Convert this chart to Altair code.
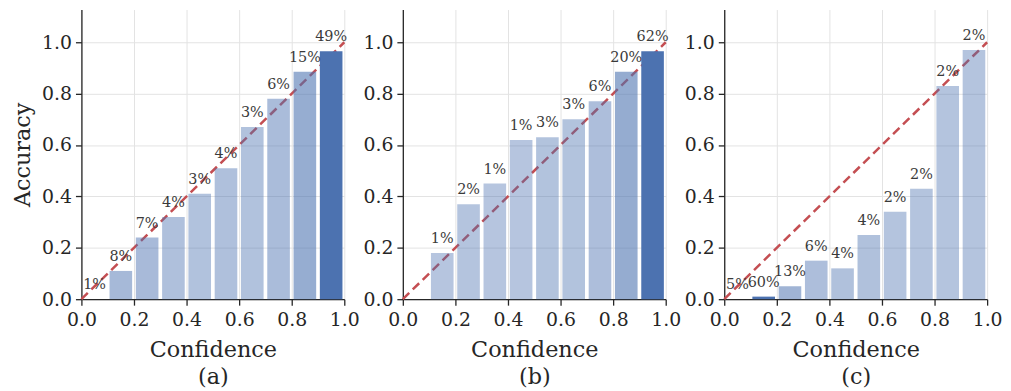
import altair as alt
import pandas as pd

# ---- data ----
bin_centers = [0.05, 0.15, 0.25, 0.35, 0.45, 0.55, 0.65, 0.75, 0.85, 0.95]
acc_a = [0.0, 0.11, 0.24, 0.32, 0.41, 0.51, 0.67, 0.78, 0.885, 0.965]
pct_a = [1, 8, 7, 4, 3, 4, 3, 6, 15, 49]
acc_b = [None, 0.18, 0.37, 0.45, 0.62, 0.63, 0.70, 0.77, 0.885, 0.965]
pct_b = [None, 1, 2, 1, 1, 3, 3, 6, 20, 62]
acc_c = [0.0, 0.01, 0.05, 0.15, 0.12, 0.25, 0.34, 0.43, 0.83, 0.97]
pct_c = [5, 60, 13, 6, 4, 4, 2, 2, 2, 2]
panel_labels = ["(a)", "(b)", "(c)"]
tick_vals = [0.0, 0.2, 0.4, 0.6, 0.8, 1.0]
diag_x = [0.0, 1.0]
diag_y = [0.0, 1.0]

FONT = "DejaVu Serif"
BLUE = "#4c72b0"
RED = "#c44e52"
HALF_BAR = 0.043


def frame(acc, pct):
    rows = []
    mx = max(p for p in pct if p is not None)
    for c, a, p in zip(bin_centers, acc, pct):
        if a is None:
            continue
        rows.append({
            "lo": c - HALF_BAR, "hi": c + HALF_BAR, "c": c,
            "acc": a, "lbl": f"{p}%", "op": 0.4 + 0.6 * p / mx,
        })
    return pd.DataFrame(rows)


diag = pd.DataFrame({"x": diag_x, "y": diag_y})


def panel(acc, pct, label, first):
    df = frame(acc, pct)
    xs = alt.Scale(domain=[0, 1], nice=False)
    ys = alt.Scale(domain=[0, 1.1274], nice=False)
    xaxis = alt.Axis(values=tick_vals, format=".1f", title=["Confidence", label],
                     labelFlush=False, labelOverlap=False, titleLineHeight=27,
                     labelPadding=6, titlePadding=9)
    if first:
        yaxis = alt.Axis(values=tick_vals, format=".1f", title="Accuracy",
                         labelFlush=False, labelOverlap=False, titlePadding=7)
    else:
        yaxis = alt.Axis(values=tick_vals, format=".1f", title=None,
                         labelFlush=False, labelOverlap=False)
    line = alt.Chart(diag).mark_line(color=RED, strokeWidth=2.5, strokeDash=[9, 5]).encode(
        x=alt.X("x:Q", scale=xs, axis=xaxis),
        y=alt.Y("y:Q", scale=ys, axis=yaxis),
    )
    bars = alt.Chart(df).mark_rect(color=BLUE).encode(
        x=alt.X("lo:Q", scale=xs),
        x2="hi:Q",
        y=alt.Y("acc:Q", scale=ys),
        y2=alt.datum(0),
        opacity=alt.Opacity("op:Q", scale=None),
    )
    text = alt.Chart(df).mark_text(font=FONT, fontSize=14.5, color="#3a3a3a",
                                   baseline="alphabetic", dy=-10).encode(
        x=alt.X("c:Q", scale=xs),
        y=alt.Y("acc:Q", scale=ys),
        text="lbl:N",
    )
    return alt.layer(line, bars, text).properties(width=265, height=292)


chart = alt.hconcat(
    panel(acc_a, pct_a, panel_labels[0], True),
    panel(acc_b, pct_b, panel_labels[1], False),
    panel(acc_c, pct_c, panel_labels[2], False),
    spacing=59, bounds="flush",
).properties(padding={"left": 3, "top": 0, "right": 0, "bottom": 0}).configure_view(
    stroke=None
).configure_axis(
    labelFont=FONT, titleFont=FONT, labelFontSize=19, titleFontSize=22.5,
    titleFontWeight="normal", labelColor="#262626", titleColor="#262626",
    domainColor="#262626", domainWidth=1.3, tickColor="#262626", tickWidth=1.3,
    tickSize=6, labelPadding=4, gridColor="#e3e3e3", gridWidth=1,
)

chart.save("out.html", embed_options={"renderer": "svg", "actions": False})
